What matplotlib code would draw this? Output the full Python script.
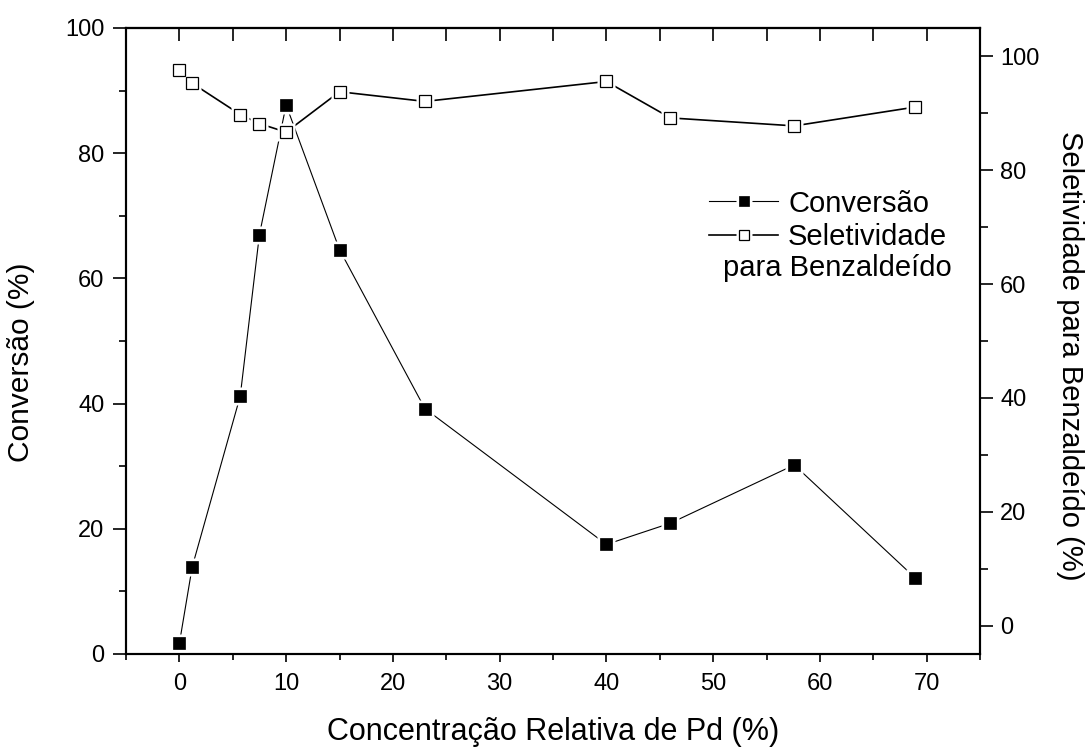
import matplotlib
matplotlib.use("Agg")
import matplotlib.pyplot as plt
from matplotlib.ticker import MultipleLocator
from matplotlib.legend_handler import HandlerTuple

plt.rcParams['font.family'] = ['Liberation Sans', 'DejaVu Sans']

# Pd relative concentration (%)
pd_conc = [0, 1.2, 5.7, 7.5, 10, 15, 23, 40, 46, 57.6, 68.9]
# conversion (%) - left axis
conversao = [1.7, 13.9, 41.2, 67.0, 87.7, 64.6, 39.2, 17.5, 20.9, 30.2, 12.2]
# selectivity to benzaldehyde (%) - right axis
seletividade = [97.6, 95.3, 89.8, 88.2, 86.7, 93.8, 92.1, 95.6, 89.2, 87.8, 91.1]

W, H = 1091, 751
fig = plt.figure(figsize=(W/100, H/100), dpi=100)
ax = fig.add_axes([126/W, 1-654/H, 854/W, 626/H])
ax2 = ax.twinx()

ms = 8.3      # marker side (pt)
halo = ms + 4  # white gap around markers

# conversion series
l1, = ax.plot(pd_conc, conversao, '-', color='black', lw=0.8, zorder=2)
h1, = ax.plot(pd_conc, conversao, 's', ms=halo, mfc='white', mec='none', zorder=3)
m1, = ax.plot(pd_conc, conversao, 's', ms=ms, mfc='black', mec='black', mew=0.5, zorder=4)

# selectivity series
l2, = ax2.plot(pd_conc, seletividade, '-', color='black', lw=1.2, zorder=2)
h2, = ax2.plot(pd_conc, seletividade, 's', ms=halo, mfc='white', mec='none', zorder=3)
m2, = ax2.plot(pd_conc, seletividade, 's', ms=ms, mfc='white', mec='black', mew=0.9, zorder=4)

ax.set_xlim(-5, 75)
ax.set_ylim(0, 100)
ax2.set_ylim(-5, 105)

ax.xaxis.set_major_locator(MultipleLocator(10))
ax.xaxis.set_minor_locator(MultipleLocator(5))
ax.yaxis.set_major_locator(MultipleLocator(20))
ax.yaxis.set_minor_locator(MultipleLocator(10))
ax2.yaxis.set_major_locator(MultipleLocator(20))
ax2.yaxis.set_minor_locator(MultipleLocator(10))

for a in (ax, ax2):
    for s in a.spines.values():
        s.set_linewidth(1.5)

ax.tick_params(axis='x', which='major', direction='out', length=6, width=1.2, labelsize=17, pad=8)
ax.tick_params(axis='x', which='minor', direction='out', length=4, width=1.2)
ax.tick_params(axis='y', which='major', direction='out', length=9.5, width=1.2, labelsize=17, pad=6)
ax.tick_params(axis='y', which='minor', direction='out', length=5, width=1.2)
ax2.tick_params(axis='y', which='major', direction='out', length=9.5, width=1.2, labelsize=17, pad=5)
ax2.tick_params(axis='y', which='minor', direction='out', length=5.5, width=1.2)

# top axis: ticks pointing inward, no labels
top = ax.secondary_xaxis('top')
top.xaxis.set_major_locator(MultipleLocator(10))
top.xaxis.set_minor_locator(MultipleLocator(5))
top.tick_params(axis='x', which='both', direction='in', length=9, width=1.2, labeltop=False)
top.spines['top'].set_linewidth(1.5)

ax.set_xlabel('Concentração Relativa de Pd (%)', fontsize=22)
ax.xaxis.set_label_coords(0.5, -0.100)
ax.set_ylabel('Conversão (%)', fontsize=21.5)
ax.yaxis.set_label_coords(-0.106, 0.466)
ax2.set_ylabel('Seletividade para Benzaldeído (%)', fontsize=21, rotation=270, va='bottom')
ax2.yaxis.set_label_coords(1.089, 0.476)

leg = ax2.legend([(l1, h1, m1), (l2, h2, m2)], ['Conversão', 'Seletividade'],
                 handler_map={tuple: HandlerTuple(ndivide=1, pad=0)},
                 loc='upper left', bbox_to_anchor=(709/W, 1-189.6/H),
                 bbox_transform=fig.transFigure, frameon=False, fontsize=21,
                 borderpad=0, borderaxespad=0, handlelength=2.37,
                 handletextpad=0.34, labelspacing=0.18, markerscale=0.95)

# second line of the selectivity label, right-aligned under "Seletividade"
fig.canvas.draw()
bb = leg.get_texts()[1].get_window_extent()
fig.text((bb.x1 + 5)/W, (bb.y0 - 3)/H, 'para Benzaldeído',
         ha='right', va='top', fontsize=21)

fig.savefig('out.png', dpi=100)
